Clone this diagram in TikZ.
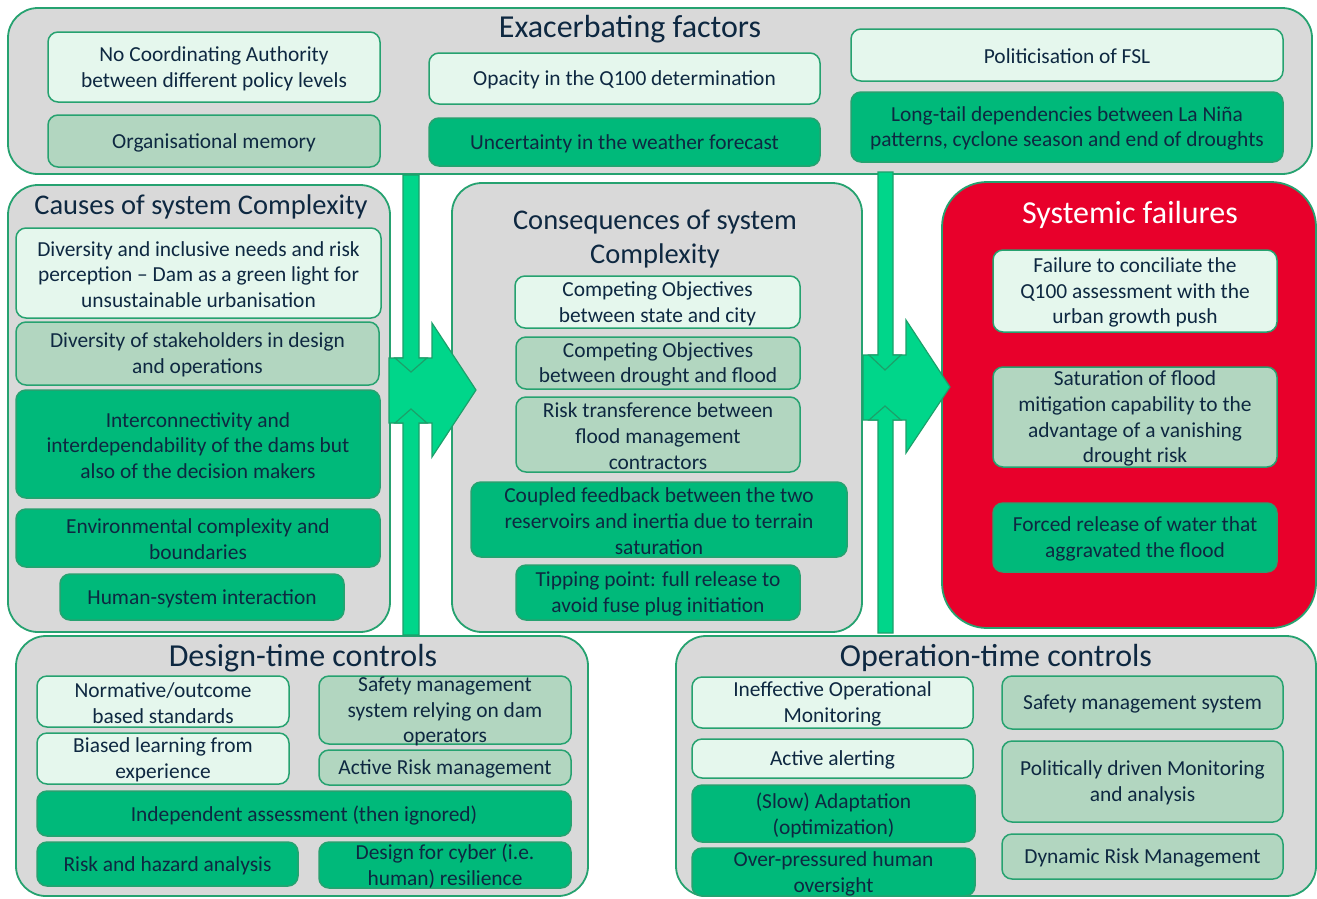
\documentclass[tikz,border=0pt]{standalone}
\usepackage{fontspec}
\setmainfont{Carlito}
\definecolor{panelgray}{RGB}{217,217,217}
\definecolor{bord}{RGB}{38,162,112}
\definecolor{lightf}{RGB}{229,247,237}
\definecolor{medf}{RGB}{178,214,192}
\definecolor{darkf}{RGB}{0,185,122}
\definecolor{arrf}{RGB}{0,214,138}
\definecolor{arrd}{RGB}{28,160,106}
\definecolor{redf}{RGB}{232,0,43}
\definecolor{txtc}{RGB}{14,40,65}
\newcommand\drbox[7]{%
  \node[#1, inner sep=0pt, minimum width={(#5)-(#3)}, minimum height={(#6)-(#4)}] (#2) at ({((#3)+(#5))/2},{((#4)+(#6))/2}) {};
  \node[txt] (#2-t) at (#2.center) {#7};}
\newcommand\drpanel[6]{%
  \node[#1, inner sep=0pt, minimum width={(#5)-(#3)}, minimum height={(#6)-(#4)}] (#2) at ({((#3)+(#5))/2},{((#4)+(#6))/2}) {};}
\begin{document}
\begin{tikzpicture}[x=1pt,y=-1pt,
  panel/.style={draw=bord, line width=1.8pt, fill=panelgray, rounded corners=30pt},
  redpanel/.style={draw=bord, line width=1.8pt, fill=redf, rounded corners=45pt},
  lt/.style={draw=bord, line width=1.5pt, fill=lightf, rounded corners=10pt},
  md/.style={draw=bord, line width=1.5pt, fill=medf, rounded corners=10pt},
  dk/.style={draw=bord, line width=1.5pt, fill=darkf, rounded corners=10pt},
  txt/.style={text=txtc, align=center, font=\fontsize{21.4}{25.8}\selectfont, inner sep=0pt, yshift=-1.5pt},
  ttl/.style={text=txtc, align=center, font=\fontsize{32}{34}\selectfont, inner sep=0pt, yshift=-2pt},
  ttls/.style={text=txtc, align=center, font=\fontsize{28.5}{34}\selectfont, inner sep=0pt, yshift=-2pt},
  arr/.style={draw=arrd, line width=1.2pt, fill=arrf, line join=miter}]
\useasboundingbox (0,0) rectangle (1317,898);
\fill[white] (0,0) rectangle (1317,898);

% Exacerbating factors
\drpanel{panel}{exa}{8}{8}{1312}{174}
\node[ttl] (exa-title) at (630,27) {Exacerbating factors};
\drbox{lt}{e1}{48}{32}{380}{102}{No Coordinating Authority\\between different policy levels}
\drbox{md}{e2}{48}{115}{380}{167}{Organisational memory}
\drbox{lt}{e3}{429}{53}{820}{104}{Opacity in the Q100 determination}
\drbox{dk}{e4}{429}{118}{820}{166}{Uncertainty in the weather forecast}
\drbox{lt}{e5}{851}{29}{1283}{81}{Politicisation of FSL}
\drbox{dk}{e6}{851}{92}{1283}{162}{Long-tail dependencies between La Niña\\patterns, cyclone season and end of droughts}

% Causes
\drpanel{panel}{cau}{8}{185}{390}{632}
\node[ttls] (cau-title) at (201,205) {Causes of system Complexity};
\drbox{lt}{c1}{16}{228}{381}{318}{Diversity and inclusive needs and risk\\perception – Dam as a green light for\\unsustainable urbanisation}
\drbox{md}{c2}{16}{322}{379}{385}{Diversity of stakeholders in design\\and operations}
\drbox{dk}{c3}{16}{390}{380}{498}{Interconnectivity and\\interdependability of the dams but\\also of the decision makers}
\drbox{dk}{c4}{16}{509}{380}{567}{Environmental complexity and\\boundaries}
\drbox{dk}{c5}{60}{574}{344}{620}{Human-system interaction}

% Consequences
\drpanel{panel}{con}{452}{183}{862}{632}
\node[ttls] (con-title) at (655,237) {Consequences of system\\Complexity};
\drbox{lt}{k1}{515}{276}{800}{328}{Competing Objectives\\between state and city}
\drbox{md}{k2}{516}{337}{800}{389}{Competing Objectives\\between drought and flood}
\drbox{md}{k3}{516}{397}{800}{472}{Risk transference between\\flood management\\contractors}
\drbox{dk}{k4}{471}{482}{847}{557}{Coupled feedback between the two\\reservoirs and inertia due to terrain\\saturation}
\drbox{dk}{k5}{516}{565}{800}{620}{Tipping point: full release to\\avoid fuse plug initiation}

% Systemic failures
\drpanel{redpanel}{sys}{942}{182}{1316}{628}
\node[ttl, text=white] (sys-title) at (1130,213) {Systemic failures};
\drbox{lt}{s1}{993}{250}{1277}{332}{Failure to conciliate the\\Q100 assessment with the\\urban growth push}
\drbox{md}{s2}{993}{367}{1277}{467}{Saturation of flood\\mitigation capability to the\\advantage of a vanishing\\drought risk}
\drbox{dk}{s3}{993}{503}{1277}{572}{Forced release of water that\\aggravated the flood}

% Design-time controls
\drpanel{panel}{des}{16}{636}{588}{896}
\node[ttl] (des-title) at (303,656) {Design-time controls};
\drbox{lt}{d1}{37}{676}{289}{727}{Normative/outcome\\based standards}
\drbox{lt}{d2}{37}{733}{289}{784}{Biased learning from\\experience}
\drbox{md}{d3}{319}{676}{571}{744}{Safety management\\system relying on dam\\operators}
\drbox{md}{d4}{319}{750}{571}{785}{Active Risk management}
\drbox{dk}{d5}{37}{791}{571}{836}{Independent assessment (then ignored)}
\drbox{dk}{d6}{37}{842}{298}{886}{Risk and hazard analysis}
\drbox{dk}{d7}{319}{842}{571}{888}{Design for cyber (i.e.\\human) resilience}

% Operation-time controls
\drpanel{panel}{ope}{676}{636}{1316}{896}
\node[ttl] (ope-title) at (996,656) {Operation-time controls};
\drbox{lt}{o1}{692}{677}{973}{728}{Ineffective Operational\\Monitoring}
\drbox{lt}{o2}{692}{739}{973}{778}{Active alerting}
\drbox{dk}{o3}{692}{785}{975}{842}{(Slow) Adaptation\\(optimization)}
\drbox{dk}{o4}{692}{848}{975}{896}{Over-pressured human\\oversight}
\drbox{md}{o5}{1002}{676}{1283}{729}{Safety management system}
\drbox{md}{o6}{1002}{741}{1283}{822}{Politically driven Monitoring\\and analysis}
\drbox{md}{o7}{1002}{834}{1283}{879}{Dynamic Risk Management}

% Block arrows, group 1
\draw[arr] (389,358) -- (432,358) -- (432,323) -- (476,390) -- (432,457) -- (432,423) -- (389,423) -- cycle;
\draw[arr] (403,175) -- (419,175) -- (419,358) -- (427,358) -- (411,372) -- (395,358) -- (403,358) -- cycle;
\draw[arr] (403,635) -- (419,635) -- (419,423) -- (427,423) -- (411,409) -- (395,423) -- (403,423) -- cycle;
% Block arrows, group 2
\draw[arr] (863,355) -- (906,355) -- (906,320) -- (950,387) -- (906,453) -- (906,420) -- (863,420) -- cycle;
\draw[arr] (878,172) -- (893,172) -- (893,355) -- (901,355) -- (885,370) -- (869,355) -- (878,355) -- cycle;
\draw[arr] (878,633) -- (893,633) -- (893,420) -- (901,420) -- (885,406) -- (869,420) -- (878,420) -- cycle;
\end{tikzpicture}
\end{document}
